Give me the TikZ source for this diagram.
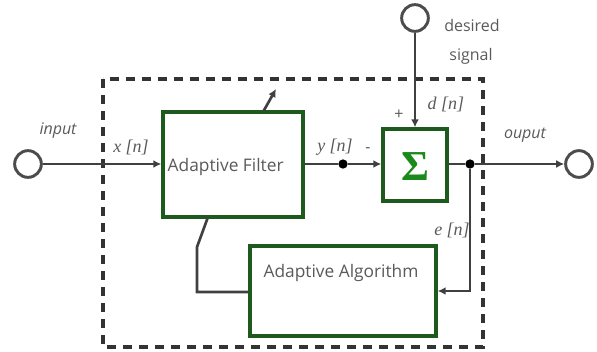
\documentclass[tikz,border=0pt]{standalone}
\usepackage{fontspec}
\setmainfont{Open Sans}
\newfontfamily\serifx{Liberation Serif}
\usetikzlibrary{arrows.meta}
\definecolor{txt}{HTML}{5A5A5A}
\definecolor{boxg}{HTML}{1E5A1E}
\definecolor{sig}{HTML}{1A8A1A}
\tikzset{
  blk/.style={draw=boxg, line width=2.6pt, fill=white, inner sep=0pt},
  wire/.style={draw=black!75, line width=2pt},
  arr/.style={wire, -{Latex[length=6pt,width=6pt]}},
  term/.style={circle, draw=black!70, line width=2.2pt, minimum size=20pt, inner sep=0pt},
  dot/.style={circle, fill=black, minimum size=7pt, inner sep=0pt},
  lbl/.style={text=txt, font=\fontsize{12}{13}\selectfont},
  big/.style={text=txt, font=\fontsize{13}{14}\selectfont},
  sym/.style={text=txt, font=\serifx\itshape\fontsize{13.5}{15}\selectfont},
}
\begin{document}
\begin{tikzpicture}[x=0.75pt,y=-0.75pt]
\useasboundingbox (0,0) rectangle (597,351);
% dashed enclosure
\draw[black!80, line width=2.4pt, dash pattern=on 7pt off 5pt] (103,79) rectangle (483,347);
% blocks
\node[blk, minimum width=105pt, minimum height=79pt] (af) at (233,164.5) {};
\node[big, anchor=west] at (163,167) {Adaptive Filter};
\node[blk, minimum width=139.5pt, minimum height=67.5pt] (aa) at (343,291) {};
\node[big] at (341,273) {Adaptive Algorithm};
\node[blk, minimum width=48pt, minimum height=54pt] (sum) at (415,165) {};
\node[text=sig, font=\serifx\bfseries\fontsize{32}{34}\selectfont] at (415,167) {Σ};
% terminals
\node[term] (in) at (28,164) {};
\node[term] (out) at (579,164) {};
\node[term] (des) at (415,18) {};
% junctions
\node[dot] (jy) at (343,164) {};
\node[dot] (jo) at (470,164) {};
\coordinate (ef) at (470,291);
\coordinate (fb1) at (208,217);
\coordinate (fb2) at (197,247);
\coordinate (fb3) at (197,292);
\coordinate (ad1) at (263,112);
\coordinate (ad2) at (276,89);
% wires
\draw[arr] (in) -- (af.west |- in);
\draw[wire] (af.east |- jy) -- (jy);
\draw[arr] (jy) -- (sum.west |- jy);
\draw[arr] (des) -- (sum.north);
\draw[wire] (sum.east |- jo) -- (jo);
\draw[arr] (jo) -- (out);
\draw[arr] (jo) -- (ef) -- (aa.east |- ef);
\draw[wire] (fb1) -- (fb2) -- (fb3) -- (aa.west |- fb3);
\draw[arr] (ad1) -- (ad2);
% labels
\node[lbl, font=\itshape\fontsize{12}{13}\selectfont] at (58,131) {input};
\node[sym] at (131,147) {x [\textit{n}]};
\node[sym] at (335,147) {y [\textit{n}]};
\node[lbl] at (368,150) {-};
\node[lbl] at (399,115) {+};
\node[sym] at (446,104) {d [\textit{n}]};
\node[lbl] at (472,25) {desired};
\node[lbl] at (471,56) {signal};
\node[lbl, font=\itshape\fontsize{12}{13}\selectfont] at (525,135) {ouput};
\node[sym] at (452,230) {e [\textit{n}]};
\end{tikzpicture}
\end{document}
